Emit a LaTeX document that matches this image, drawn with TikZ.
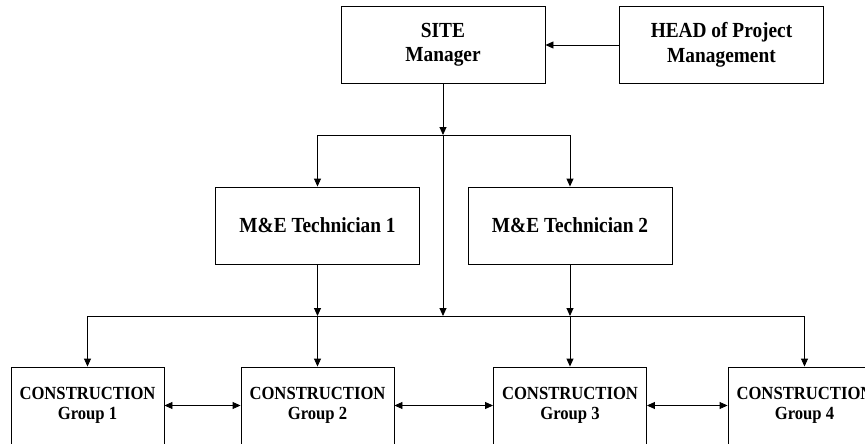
\documentclass[tikz,border=0pt]{standalone}
\usepackage{fontspec}
\setmainfont{Liberation Serif}[FakeStretch=0.9]
\usetikzlibrary{arrows.meta}
\begin{document}
\begin{tikzpicture}[x=1pt,y=-1pt,
  line width=0.9pt,
  bigbox/.style={draw, line width=0.9pt, minimum width=204pt, minimum height=77pt, inner sep=0pt, align=center,
    font=\fontsize{21.5}{24.5}\selectfont\bfseries},
  grpbox/.style={draw, line width=0.9pt, minimum width=153pt, minimum height=77pt, inner sep=0pt, align=center,
    font=\fontsize{18.5}{20}\selectfont\bfseries},
  arr/.style={-{Triangle[length=8pt,width=7pt]}},
  darr/.style={{Triangle[length=8pt,width=7pt]}-{Triangle[length=8pt,width=7pt]}}]
\useasboundingbox (0,0) rectangle (865,444);
\clip (0,0) rectangle (865,444);
\fill[white] (0,0) rectangle (865,444);

\node[bigbox] (site) at (443,45) {SITE\\Manager};
\node[bigbox] (head) at (721.5,45) {HEAD of Project\\Management};
\node[bigbox] (tech1) at (317.5,225.5) {M\&E Technician 1};
\node[bigbox] (tech2) at (570,225.5) {M\&E Technician 2};
\node[grpbox] (g1) at (87.5,405.5) {CONSTRUCTION\\Group 1};
\node[grpbox] (g2) at (317.5,405.5) {CONSTRUCTION\\Group 2};
\node[grpbox] (g3) at (570,405.5) {CONSTRUCTION\\Group 3};
\node[grpbox] (g4) at (804.5,405.5) {CONSTRUCTION\\Group 4};

\coordinate (j1) at (443,135);
\coordinate (j1l) at (317.5,135);
\coordinate (j1r) at (570,135);
\coordinate (j2) at (443,316);
\coordinate (j2a) at (317.5,316);
\coordinate (j2b) at (570,316);
\coordinate (j2l) at (87.5,316);
\coordinate (j2r) at (804.5,316);

\draw[arr] (head.west) -- (site.east);
\draw[arr] (site.south) -- (j1);
\draw (j1l) -- (j1r);
\draw[arr] (j1l) -- (tech1.north);
\draw[arr] (j1r) -- (tech2.north);
\draw[arr] (j1) -- (j2);
\draw[arr] (tech1.south) -- (j2a);
\draw[arr] (tech2.south) -- (j2b);
\draw (j2l) -- (j2r);
\draw[arr] (j2l) -- (g1.north);
\draw[arr] (j2a) -- (g2.north);
\draw[arr] (j2b) -- (g3.north);
\draw[arr] (j2r) -- (g4.north);
\draw[darr] (g1.east) -- (g2.west);
\draw[darr] (g2.east) -- (g3.west);
\draw[darr] (g3.east) -- (g4.west);
\end{tikzpicture}
\end{document}
